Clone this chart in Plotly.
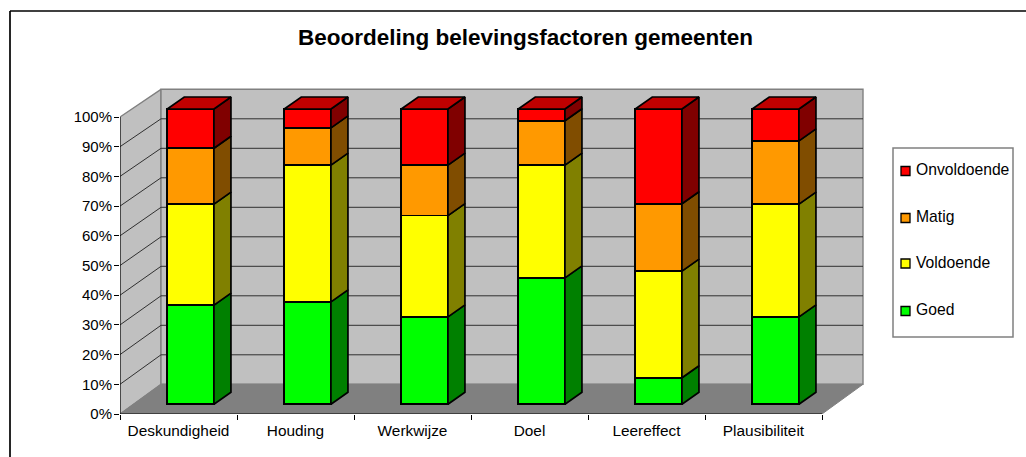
import plotly.graph_objects as go

categories = ["Deskundigheid", "Houding", "Werkwijze", "Doel", "Leereffect", "Plausibiliteit"]
series_names = ["Goed", "Voldoende", "Matig", "Onvoldoende"]
goed = [33.6, 34.7, 29.6, 42.8, 9.0, 29.6]
voldoende = [34.2, 46.3, 34.3, 38.2, 36.1, 38.2]
matig = [18.9, 12.6, 17.1, 15.0, 22.8, 21.4]
onvoldoende = [13.3, 6.4, 19.0, 4.0, 32.1, 10.8]
y_ticks = [0, 10, 20, 30, 40, 50, 60, 70, 80, 90, 100]

series_values = [goed, voldoende, matig, onvoldoende]
front_colors = ["#00ff00", "#ffff00", "#ff9900", "#ff0000"]
side_colors = ["#008000", "#808000", "#804d00", "#800000"]
top_color = "#c00000"
FONT = "Liberation Sans"

W, H = 1026, 457
PL, PR, PT, PB = 120, 870, 85, 414      # plot area in pixels
CAT = 117.0                              # pixels per category
YS = 2.97                                # pixels per percent, front axis
YS_BAR = 2.953                           # pixels per percent, bars
BAR_X0 = 190.6                           # pixel centre of first bar
BAR_Y0 = 404.3                           # pixel of 0 % in bar plane
BAR_W = 46.7 / CAT
DX_BAR, DY_BAR = 17.0 / CAT, 12.0 / YS_BAR
DX_W, DY_W = 41.0 / CAT, 10.0
BACK = 295.0 / 297.0
n = len(categories)

def px(x):
    return (x - PL) / (PR - PL)

def py(y):
    return (PB - y) / (PB - PT)

fig = go.Figure()

def poly(xs, ys, fill, line=None, lw=1.0, axes=("x", "y")):
    fig.add_trace(go.Scatter(
        x=xs, y=ys, mode="lines", fill="toself" if fill else None, fillcolor=fill,
        line=dict(color=line or "rgba(0,0,0,0)", width=lw), hoverinfo="skip",
        showlegend=False, xaxis=axes[0], yaxis=axes[1], cliponaxis=False))

top_y = 100
back_y = lambda v: DY_W + v * BACK
# side wall
poly([0, DX_W, DX_W, 0, 0], [0, back_y(0), back_y(top_y), top_y, 0], "#c0c0c0", "#808080", 1.4)
# back wall
poly([DX_W, n + DX_W, n + DX_W, DX_W, DX_W],
     [back_y(0), back_y(0), back_y(top_y), back_y(top_y), back_y(0)], "#c0c0c0", "#808080", 1.4)
# floor
poly([0, n, n + DX_W, DX_W, 0], [0, 0, back_y(0), back_y(0), 0], "#808080", "#808080", 1.0)
# grid lines
gx, gy = [], []
for v in y_ticks[1:-1]:
    gx += [0, DX_W, n + DX_W, None]
    gy += [v, back_y(v), back_y(v), None]
poly(gx, gy, None, "#303030", 1.0)
# axis lines
poly([0, 0, n], [100, 0, 0], None, "#000000", 1.0)

# bars
for name, vals, col in zip(series_names, series_values, front_colors):
    fig.add_trace(go.Bar(
        x=list(range(n)), y=vals, name=name, width=BAR_W, marker=dict(color=col, line=dict(color="#000000", width=1.7)),
        customdata=categories, hovertemplate="%{customdata}<br>" + name + ": %{y}%<extra></extra>",
        showlegend=False, xaxis="x2", yaxis="y2"))

# side and top faces derived from the same values
cum = [0.0] * n
for vals, col in zip(series_values, side_colors):
    sx, sy = [], []
    for i in range(n):
        xr = i + BAR_W / 2
        c0, c1 = cum[i], cum[i] + vals[i]
        sx += [xr, xr + DX_BAR, xr + DX_BAR, xr, xr, None]
        sy += [c0, c0 + DY_BAR, c1 + DY_BAR, c1, c0, None]
        cum[i] = c1
    poly(sx, sy, col, "#000000", 1.7, ("x2", "y2"))
tx, ty = [], []
for i in range(n):
    xl, xr = i - BAR_W / 2, i + BAR_W / 2
    tx += [xl, xr, xr + DX_BAR, xl + DX_BAR, xl, None]
    ty += [cum[i], cum[i], cum[i] + DY_BAR, cum[i] + DY_BAR, cum[i], None]
poly(tx, ty, top_color, "#000000", 1.7, ("x2", "y2"))

shapes = [
    dict(type="line", xref="paper", yref="paper", x0=px(10), x1=px(10), y0=py(11), y1=py(H), line=dict(color="#000000", width=1.7)),
    dict(type="line", xref="paper", yref="paper", x0=px(10), x1=px(W), y0=py(11), y1=py(11), line=dict(color="#000000", width=1.7)),
    dict(type="rect", xref="paper", yref="paper", x0=px(893), x1=px(1013), y0=py(148), y1=py(337),
         line=dict(color="#808080", width=1.5), fillcolor="#ffffff"),
]
annotations = []
legend_y = [171, 218, 263.5, 311]
for name, col, ly in zip(reversed(series_names), reversed(front_colors), legend_y):
    shapes.append(dict(type="rect", xref="paper", yref="paper", x0=px(901), x1=px(910), y0=py(ly - 4.5), y1=py(ly + 4.5),
                       fillcolor=col, line=dict(color="#000000", width=1.3)))
    annotations.append(dict(text=name, xref="paper", yref="paper", x=px(913.5), y=py(ly - 1.5), xanchor="left", yanchor="middle",
                            showarrow=False, font=dict(family=FONT, size=15.7, color="#000000")))

fig.update_layout(
    width=W, height=H, autosize=False, paper_bgcolor="#ffffff", plot_bgcolor="rgba(0,0,0,0)",
    margin=dict(l=PL, r=W - PR, t=PT, b=H - PB, pad=0, autoexpand=False),
    barmode="stack", showlegend=False, shapes=shapes, annotations=annotations,
    font=dict(family=FONT, size=15, color="#000000"),
    title=dict(text="<b>Beoordeling belevingsfactoren gemeenten</b>", x=525.5 / W, xanchor="center", y=1 - 37 / H, yanchor="middle",
               font=dict(family=FONT, size=22.5, color="#000000")),
    xaxis=dict(range=[0, (PR - PL) / CAT], showgrid=False, zeroline=False, showline=False,
               tickmode="array", tickvals=[i + 0.5 for i in range(n)], ticktext=categories, ticks="",
               minor=dict(tickmode="array", tickvals=list(range(n + 1)), ticks="outside", ticklen=5, tickcolor="#000000", tickwidth=1, showgrid=False),
               ticklabelstandoff=6, tickfont=dict(family=FONT, size=15.4, color="#000000")),
    yaxis=dict(range=[0, (PB - PT) / YS], showgrid=False, zeroline=False, showline=False,
               tickmode="array", tickvals=y_ticks, ticktext=[f"{v}%" for v in y_ticks], ticks="outside", ticklen=5,
               tickcolor="#000000", tickwidth=1, ticklabelstandoff=-1, tickfont=dict(family=FONT, size=15, color="#000000")),
    xaxis2=dict(overlaying="x", anchor="y2", visible=False, range=[(PL - BAR_X0) / CAT, (PR - BAR_X0) / CAT]),
    yaxis2=dict(overlaying="y", anchor="x2", visible=False, range=[(BAR_Y0 - PB) / YS_BAR, (BAR_Y0 - PT) / YS_BAR]),
)

fig.write_html("out.html", config={"displayModeBar": False},
               post_script="document.body.style.margin='0';document.documentElement.style.overflow='hidden';")
